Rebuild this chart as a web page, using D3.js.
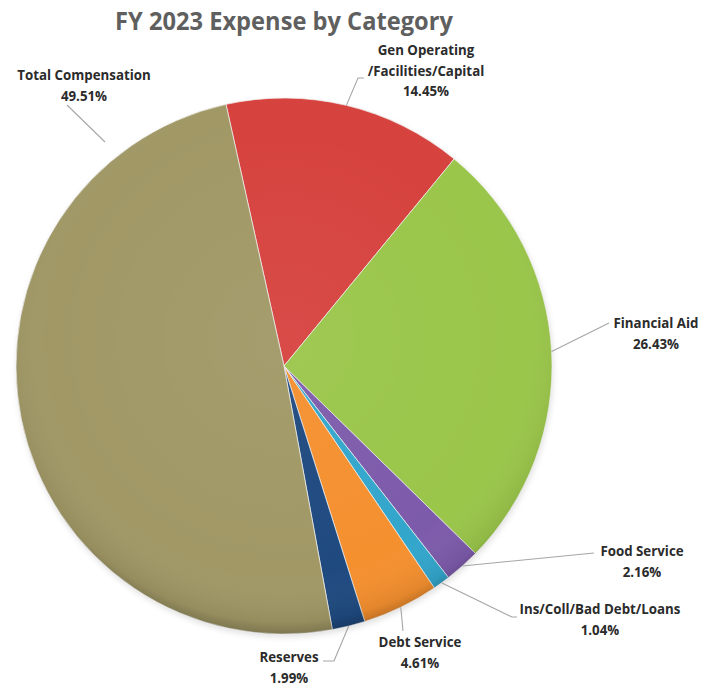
<!DOCTYPE html>
<html>
<head>
<meta charset="utf-8">
<script src="https://cdn.jsdelivr.net/npm/d3@7"></script>
<style>
  html, body { margin: 0; padding: 0; background: #ffffff; }
  svg { display: block; }
  text { font-family: "Open Sans", "DejaVu Sans", sans-serif; }
</style>
</head>
<body>
<svg id="chart" width="704" height="690"></svg>
<script>
// Expense categories, clockwise from the top of the pie
const categories = [
  "Gen Operating\n/Facilities/Capital",
  "Financial Aid",
  "Food Service",
  "Ins/Coll/Bad Debt/Loans",
  "Debt Service",
  "Reserves",
  "Total Compensation"
];
const shares = [14.45, 26.43, 2.16, 1.04, 4.61, 1.99, 49.51];
const sliceColors = ["#d6423e", "#9ac64a", "#7d5bab", "#33a6cc", "#f5902f", "#1f4a80", "#a19866"];

// Label placement (centre x, first baseline y) and leader line bends
const labelLayout = {
  "Gen Operating\n/Facilities/Capital": { x: 426, y: 55, bend: [[358, 78], [364, 78]] },
  "Financial Aid":            { x: 656, y: 328, bend: [[609, 323]] },
  "Food Service":             { x: 642, y: 556, bend: [[594, 553]] },
  "Ins/Coll/Bad Debt/Loans":  { x: 600, y: 614, bend: [[512, 617], [517, 617]] },
  "Debt Service":             { x: 420, y: 647, bend: [[403, 631]] },
  "Reserves":                 { x: 289, y: 662, bend: [[334, 661], [323, 661]] },
  "Total Compensation":       { x: 84,  y: 80,  start: [105, 142], bend: [[67, 105]] }
};

const svg = d3.select("#chart");
const cx = 284, cy = 366, r = 268;
const start = -12.5 * Math.PI / 180;

// Title
svg.append("text")
  .attr("x", 284).attr("y", 30)
  .attr("text-anchor", "middle")
  .attr("font-size", 25).attr("font-weight", 700)
  .attr("fill", "#5f5f5f")
  .attr("textLength", 338).attr("lengthAdjust", "spacingAndGlyphs")
  .text("FY 2023 Expense by Category");

const data = categories.map((c, i) => ({ category: c, value: shares[i], color: sliceColors[i] }));

const pie = d3.pie().sort(null).value(d => d.value)
  .startAngle(start).endAngle(start + 2 * Math.PI);
const arcs = pie(data);
const arc = d3.arc().innerRadius(0).outerRadius(r);

const defs = svg.append("defs");
// soft rim shading
const shade = defs.append("radialGradient").attr("id", "rimShade")
  .attr("cx", "50%").attr("cy", "45%").attr("r", "55%");
shade.append("stop").attr("offset", "0%").attr("stop-color", "#ffffff").attr("stop-opacity", 0.05);
shade.append("stop").attr("offset", "80%").attr("stop-color", "#ffffff").attr("stop-opacity", 0);
shade.append("stop").attr("offset", "96%").attr("stop-color", "#000000").attr("stop-opacity", 0.07);
shade.append("stop").attr("offset", "100%").attr("stop-color", "#000000").attr("stop-opacity", 0.22);

const blur = defs.append("filter").attr("id", "shadow")
  .attr("x", "-10%").attr("y", "-10%").attr("width", "120%").attr("height", "120%");
blur.append("feGaussianBlur").attr("stdDeviation", 3);

const g = svg.append("g").attr("transform", `translate(${cx},${cy})`);

// faint drop shadow below the pie
g.append("circle").attr("cx", 1).attr("cy", 3).attr("r", r)
  .attr("fill", "#000").attr("opacity", 0.12).attr("filter", "url(#shadow)");

g.selectAll("path.slice")
  .data(arcs)
  .join("path")
  .attr("class", "slice")
  .attr("d", arc)
  .attr("fill", d => d.data.color)
  .attr("stroke", "#f2f2f2")
  .attr("stroke-opacity", 0.7)
  .attr("stroke-width", 1);

g.append("circle").attr("r", r).attr("fill", "url(#rimShade)").attr("pointer-events", "none");

// Leader lines
const line = d3.line();
arcs.forEach(a => {
  const lay = labelLayout[a.data.category];
  const mid = (a.startAngle + a.endAngle) / 2;
  const from = lay.start ? lay.start : [cx + r * Math.sin(mid), cy - r * Math.cos(mid)];
  svg.append("path")
    .attr("d", line([from, ...lay.bend]))
    .attr("fill", "none")
    .attr("stroke", "#a6a6a6")
    .attr("stroke-width", 1.1);
});

// Category labels with percentages
arcs.forEach(a => {
  const lay = labelLayout[a.data.category];
  const lines = a.data.category.split("\n").concat([a.data.value.toFixed(2) + "%"]);
  const t = svg.append("text")
    .attr("text-anchor", "middle")
    .attr("font-size", 13.3).attr("font-weight", 700)
    .attr("fill", "#2b2b2b");
  lines.forEach((s, i) => {
    t.append("tspan").attr("x", lay.x).attr("y", lay.y + i * 20.5).text(s);
  });
});
</script>
</body>
</html>
